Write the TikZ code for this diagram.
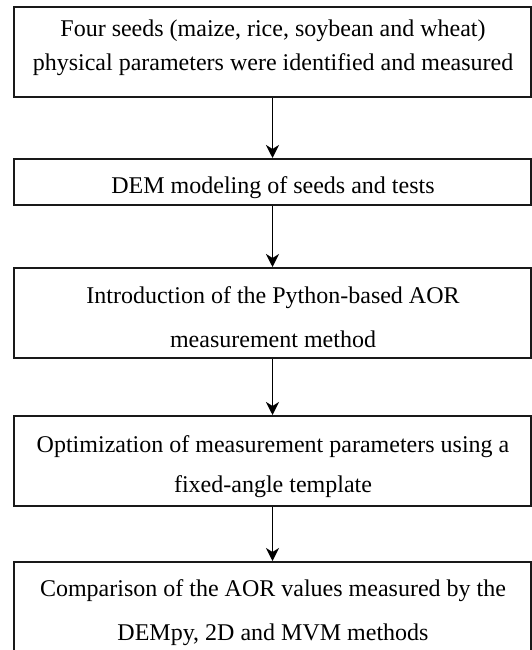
\documentclass[tikz,border=0pt]{standalone}
\usepackage{fontspec}
\setmainfont{Liberation Serif}
\usetikzlibrary{arrows.meta}
\begin{document}
\begin{tikzpicture}[x=1pt,y=-1pt,
  stagebox/.style={draw=black!90,line width=2pt,rectangle,inner sep=0pt,
    minimum width=517pt},
  stagetext/.style={anchor=base,inner sep=0pt,font=\fontsize{24}{28}\selectfont,text=black},
  flow/.style={draw=black,line width=1.8pt,-{Stealth[length=13pt,width=13pt,inset=4pt]}}]
\useasboundingbox (0,0) rectangle (532,650);
\clip (0,0) rectangle (532,650);

% stage frames
\node[stagebox,minimum height=90pt] (s1) at (272.5,52) {};
\node[stagebox,minimum height=46pt] (s2) at (272.5,182) {};
\node[stagebox,minimum height=90pt] (s3) at (272.5,313) {};
\node[stagebox,minimum height=90pt] (s4) at (272.5,461) {};
\node[stagebox,minimum height=92pt] (s5) at (272.5,608) {};

% stage texts
\node[stagetext] (s1a) at (273,37) {Four seeds (maize, rice, soybean and wheat)};
\node[stagetext] (s1b) at (273,71) {physical parameters were identified and measured};
\node[stagetext] (s2a) at (273,193) {DEM modeling of seeds and tests};
\node[stagetext] (s3a) at (273,303) {Introduction of the Python-based AOR};
\node[stagetext] (s3b) at (273,347) {measurement method};
\node[stagetext] (s4a) at (273,452) {Optimization of measurement parameters using a};
\node[stagetext] (s4b) at (273,492) {fixed-angle template};
\node[stagetext] (s5a) at (273,596) {Comparison of the AOR values measured by the};
\node[stagetext] (s5b) at (273,640) {DEMpy, 2D and MVM methods};

% connectors
\draw[flow] (s1.south) -- (s2.north);
\draw[flow] (s2.south) -- (s3.north);
\draw[flow] (s3.south) -- (s4.north);
\draw[flow] (s4.south) -- (s5.north);
\end{tikzpicture}
\end{document}
